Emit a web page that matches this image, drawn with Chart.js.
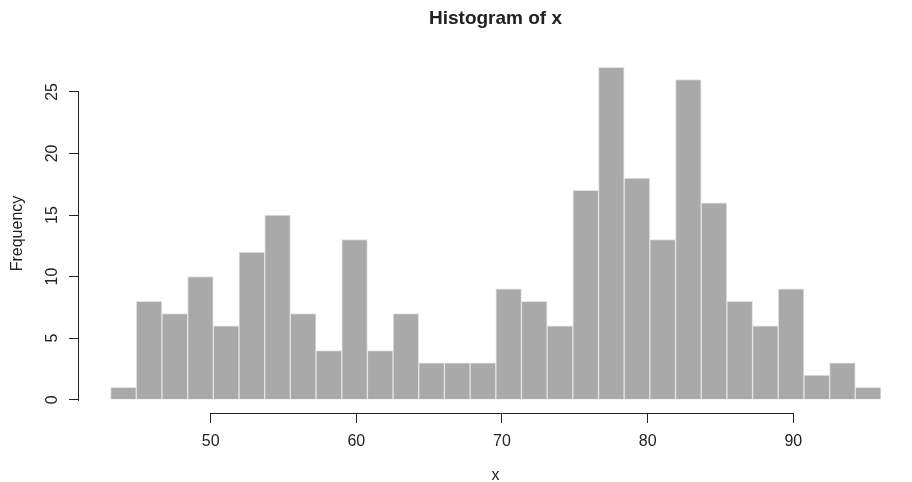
<!DOCTYPE html>
<html><head><meta charset="utf-8">
<script src="https://cdn.jsdelivr.net/npm/chart.js@4/dist/chart.umd.min.js"></script>
<style>html,body{margin:0;padding:0;background:#fff;overflow:hidden}</style>
</head><body>
<canvas id="c" width="912" height="482"></canvas>
<script>
// bin edges (31 breaks) and counts (30 bins)
const binEdges = [43.130, 44.893, 46.656, 48.419, 50.182, 51.945, 53.708, 55.471, 57.234, 58.997,
  60.760, 62.523, 64.286, 66.049, 67.812, 69.575, 71.338, 73.101, 74.864, 76.627,
  78.390, 80.153, 81.916, 83.679, 85.442, 87.205, 88.968, 90.731, 92.494, 94.257, 96.020];
const counts = [1, 8, 7, 10, 6, 12, 15, 7, 4, 13, 4, 7, 3, 3, 3, 9, 8, 6, 17, 27, 18, 13, 26, 16, 8, 6, 9, 2, 3, 1];
const xTicks = [50, 60, 70, 80, 90];
const yTicks = [0, 5, 10, 15, 20, 25];
const xRange = [40.96, 98.15];
const yRange = [-1.08, 28.08];
const mainTitle = 'Histogram of x';
const xLabel = 'x';
const yLabel = 'Frequency';

const FONT = '"Liberation Sans", Arial, sans-serif';
const INK = '#222';
const points = counts.map((c, i) => ({ x: (binEdges[i] + binEdges[i + 1]) / 2, y: c }));

const axisLines = {
  id: 'axisLines',
  afterDraw(chart) {
    const { ctx, scales: { x, y } } = chart;
    ctx.save();
    ctx.strokeStyle = INK;
    ctx.lineWidth = 1;
    // bottom axis line, from first to last tick
    const yb = Math.round(x.top) + 0.5;
    ctx.beginPath();
    ctx.moveTo(Math.round(x.getPixelForValue(xTicks[0])), yb);
    ctx.lineTo(Math.round(x.getPixelForValue(xTicks[xTicks.length - 1])) + 1, yb);
    ctx.stroke();
    // left axis line, from first to last tick
    const xl = Math.round(y.right) - 0.5;
    ctx.beginPath();
    ctx.moveTo(xl, Math.round(y.getPixelForValue(yTicks[0])) + 1);
    ctx.lineTo(xl, Math.round(y.getPixelForValue(yTicks[yTicks.length - 1])));
    ctx.stroke();
    ctx.restore();
  }
};

const gridOpts = { display: true, drawOnChartArea: false, drawTicks: true, tickLength: 10, color: INK, lineWidth: 1, offset: false };

new Chart(document.getElementById('c'), {
  type: 'bar',
  data: {
    datasets: [{
      data: points,
      backgroundColor: '#a9a9a9',
      borderColor: '#e4e4e4',
      borderWidth: 1,
      barPercentage: 1,
      categoryPercentage: 1
    }]
  },
  options: {
    responsive: false,
    animation: false,
    layout: { padding: 0 },
    plugins: {
      legend: { display: false },
      tooltip: { enabled: false },
      title: {
        display: true, text: mainTitle, fullSize: false, color: INK,
        font: { family: FONT, size: 19, weight: 'bold' },
        padding: { top: 7, bottom: 24.2 }
      }
    },
    scales: {
      x: {
        type: 'linear', min: xRange[0], max: xRange[1], offset: false,
        afterBuildTicks: s => { s.ticks = xTicks.map(v => ({ value: v })); },
        afterFit: s => { s.height = 69; },
        grid: gridOpts,
        border: { display: false },
        ticks: { font: { family: FONT, size: 16 }, color: INK, padding: 9, maxRotation: 0, autoSkip: false },
        title: { display: true, text: xLabel, color: INK, font: { family: FONT, size: 16, lineHeight: 0.75 }, padding: 0 }
      },
      y: {
        type: 'linear', min: yRange[0], max: yRange[1],
        afterBuildTicks: s => { s.ticks = yTicks.map(v => ({ value: v })); },
        afterFit: s => { s.width = 79; },
        grid: gridOpts,
        border: { display: false },
        ticks: { font: { family: FONT, size: 16 }, color: INK, padding: 8, minRotation: 90, maxRotation: 90, crossAlign: 'center', autoSkip: false },
        title: { display: true, text: yLabel, color: INK, font: { family: FONT, size: 16 }, padding: { top: 8, bottom: 0 } }
      }
    }
  },
  plugins: [axisLines]
});
</script>
</body></html>
